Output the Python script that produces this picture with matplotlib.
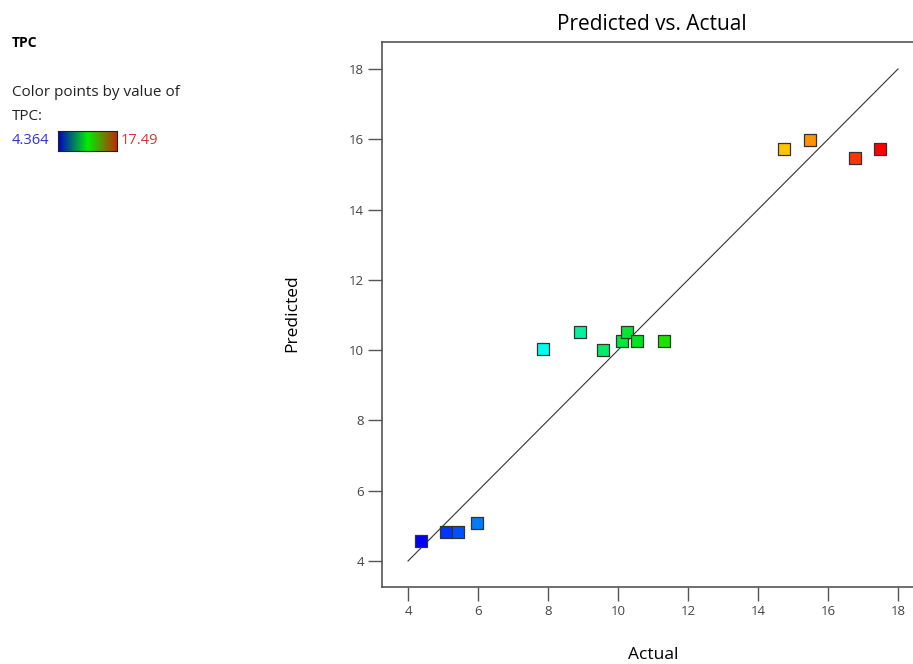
import numpy as np
import matplotlib.pyplot as plt
from matplotlib.colors import LinearSegmentedColormap, Normalize

plt.rcParams['font.family'] = ['Open Sans', 'DejaVu Sans']

# actual vs predicted TPC values
actual = [4.364, 5.08, 5.42, 5.96, 7.87, 8.92, 9.58, 10.12, 10.26, 10.53, 11.31,
          14.74, 15.49, 16.77, 17.49]
predicted = [4.58, 4.83, 4.83, 5.07, 10.02, 10.52, 10.00, 10.26, 10.52, 10.26, 10.26,
             15.72, 15.98, 15.47, 15.72]
tpc_min, tpc_max = 4.364, 17.49
ticks = [4, 6, 8, 10, 12, 14, 16, 18]

cmap = LinearSegmentedColormap.from_list(
    'de', ['#0000ff', '#00ffff', '#00e000', '#ffee00', '#ff0000'])
norm = Normalize(tpc_min, tpc_max)

fig = plt.figure(figsize=(9.13, 6.64), dpi=100)
W, H = 913, 664

# main axes (right edge runs past the picture, as in the reference)
x0, x1, y0, y1 = 382, 940, 42, 587
ax = fig.add_axes([x0 / W, 1 - y1 / H, (x1 - x0) / W, (y1 - y0) / H])
px_x = 35.0
px_y = 35.14
ax.set_xlim(4 - (408 - x0) / px_x, 18 + (x1 - 898) / px_x)
ax.set_ylim(4 - (y1 - 561) / px_y, 18 + (69 - y0) / px_y)

ax.plot([4, 18], [4, 18], color='#333333', lw=0.8)
ax.scatter(actual, predicted, c=actual, cmap=cmap, norm=norm, marker='s',
           s=75, edgecolors='#333333', linewidths=0.9, zorder=3)

ax.set_xticks(ticks)
ax.set_yticks(ticks)
ax.tick_params(direction='out', length=10, width=1, color='#555555',
               labelcolor='#444444', labelsize=9.5, pad=3)
for side in ['left', 'bottom', 'top']:
    ax.spines[side].set_color('#555555')
    ax.spines[side].set_linewidth(1.2)
ax.spines['right'].set_visible(False)

fig.text(653 / W, 1 - 655 / H, 'Actual', fontsize=12.5, ha='center', va='center')
fig.text(292 / W, 1 - 313 / H, 'Predicted', fontsize=12.5, ha='center',
         va='center', rotation=90)
fig.text(652 / W, 1 - 24 / H, 'Predicted vs. Actual', fontsize=15,
         ha='center', va='center')

# left side legend
fig.text(12 / W, 1 - 43 / H, 'TPC', fontsize=10, fontweight='bold', va='center')
fig.text(12 / W, 1 - 93 / H, 'Color points by value of', fontsize=11,
         va='center', color='#222222')
fig.text(12 / W, 1 - 116 / H, 'TPC:', fontsize=11, va='center', color='#222222')
fig.text(12 / W, 1 - 141 / H, f'{tpc_min}', fontsize=10.5, va='center',
         color='#3333cc')
fig.text(121 / W, 1 - 141 / H, f'{tpc_max}', fontsize=10.5, va='center',
         color='#dd3333')
cax = fig.add_axes([58 / W, 1 - 151 / H, 59 / W, 20 / H])
grad = np.linspace(0, 1, 256).reshape(1, -1)
cax.imshow(grad, aspect='auto', cmap=LinearSegmentedColormap.from_list(
    'bar', ['#0000cc', '#00ee00', '#cc2200']))
cax.set_xticks([])
cax.set_yticks([])
for s in cax.spines.values():
    s.set_color('#222222')

fig.savefig('out.png', dpi=100)
